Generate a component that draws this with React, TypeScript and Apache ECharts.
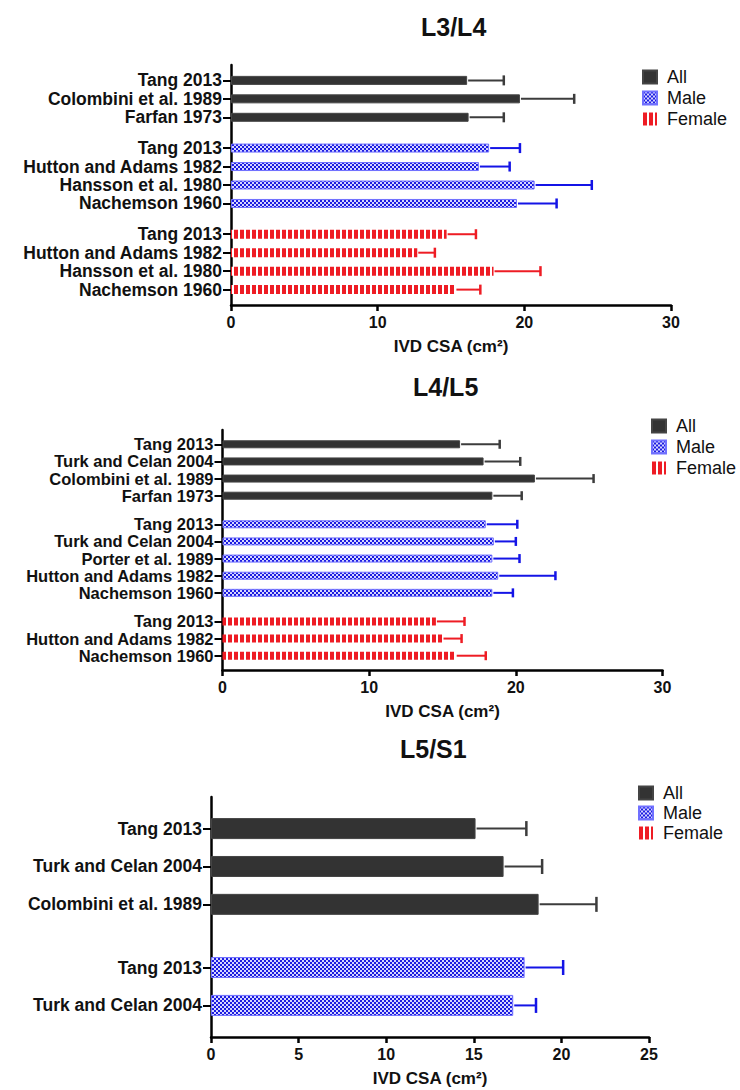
import React, { useEffect, useRef } from 'react';
import * as echarts from 'echarts';

// ---- L3/L4 ----
const l34AllStudies = ['Tang 2013', 'Colombini et al. 1989', 'Farfan 1973'];
const l34AllMean = [16.1, 19.7, 16.2];
const l34AllSD = [2.5, 3.7, 2.4];
const l34MaleStudies = ['Tang 2013', 'Hutton and Adams 1982', 'Hansson et al. 1980', 'Nachemson 1960'];
const l34MaleMean = [17.6, 16.9, 20.7, 19.5];
const l34MaleSD = [2.1, 2.1, 3.9, 2.7];
const l34FemaleStudies = ['Tang 2013', 'Hutton and Adams 1982', 'Hansson et al. 1980', 'Nachemson 1960'];
const l34FemaleMean = [14.7, 12.7, 17.9, 15.3];
const l34FemaleSD = [2.0, 1.2, 3.2, 1.7];

// ---- L4/L5 ----
const l45AllStudies = ['Tang 2013', 'Turk and Celan 2004', 'Colombini et al. 1989', 'Farfan 1973'];
const l45AllMean = [16.2, 17.8, 21.3, 18.4];
const l45AllSD = [2.7, 2.5, 4.0, 2.0];
const l45MaleStudies = ['Tang 2013', 'Turk and Celan 2004', 'Porter et al. 1989', 'Hutton and Adams 1982', 'Nachemson 1960'];
const l45MaleMean = [17.95, 18.5, 18.4, 18.8, 18.4];
const l45MaleSD = [2.15, 1.5, 1.85, 3.9, 1.4];
const l45FemaleStudies = ['Tang 2013', 'Hutton and Adams 1982', 'Nachemson 1960'];
const l45FemaleMean = [14.55, 15.0, 15.9];
const l45FemaleSD = [1.95, 1.3, 2.05];

// ---- L5/S1 ----
const l5s1AllStudies = ['Tang 2013', 'Turk and Celan 2004', 'Colombini et al. 1989'];
const l5s1AllMean = [15.1, 16.7, 18.7];
const l5s1AllSD = [2.9, 2.2, 3.3];
const l5s1MaleStudies = ['Tang 2013', 'Turk and Celan 2004'];
const l5s1MaleMean = [17.9, 17.25];
const l5s1MaleSD = [2.2, 1.3];
const l5s1FemaleStudies: string[] = [];
const l5s1FemaleMean: number[] = [];
const l5s1FemaleSD: number[] = [];

const groupNames = ['All', 'Male', 'Female'];
const panelTitles = ['L3/L4', 'L4/L5', 'L5/S1'];
const axisMax = [30, 30, 25];
const axisInterval = [10, 10, 5];
const axisTitle = 'IVD CSA (cm²)';

type Group = { studies: string[]; mean: number[]; sd: number[] };

const panelsData: Group[][] = [
  [
    { studies: l34AllStudies, mean: l34AllMean, sd: l34AllSD },
    { studies: l34MaleStudies, mean: l34MaleMean, sd: l34MaleSD },
    { studies: l34FemaleStudies, mean: l34FemaleMean, sd: l34FemaleSD },
  ],
  [
    { studies: l45AllStudies, mean: l45AllMean, sd: l45AllSD },
    { studies: l45MaleStudies, mean: l45MaleMean, sd: l45MaleSD },
    { studies: l45FemaleStudies, mean: l45FemaleMean, sd: l45FemaleSD },
  ],
  [
    { studies: l5s1AllStudies, mean: l5s1AllMean, sd: l5s1AllSD },
    { studies: l5s1MaleStudies, mean: l5s1MaleMean, sd: l5s1MaleSD },
    { studies: l5s1FemaleStudies, mean: l5s1FemaleMean, sd: l5s1FemaleSD },
  ],
];

// layout of each panel on the page
const layouts = [
  { grid: { left: 231, top: 65, width: 440, height: 240 }, barWidth: 9, cap: 10, labelSize: 17.5,
    title: { left: 421, top: 14 }, legend: { left: 642, top: 68, itemGap: 3 } },
  { grid: { left: 222.5, top: 430, width: 440, height: 240 }, barWidth: 8, cap: 9, labelSize: 16.5,
    title: { left: 413, top: 374 }, legend: { left: 651, top: 417, itemGap: 3 } },
  { grid: { left: 211, top: 797, width: 438, height: 240 }, barWidth: 21, cap: 15, labelSize: 17.5,
    title: { left: 400, top: 736 }, legend: { left: 638, top: 784, itemGap: 2 } },
];

const FONT = '"Liberation Sans", Arial, Helvetica, sans-serif';
const errColors = ['#3c3c3c', '#1414e6', '#ee1c24'];

function makePattern(w: number, h: number, draw: (ctx: CanvasRenderingContext2D) => void) {
  const c = document.createElement('canvas');
  c.width = w;
  c.height = h;
  const ctx = c.getContext('2d') as CanvasRenderingContext2D;
  draw(ctx);
  return { image: c, repeat: 'repeat' };
}

// slot positions on the category axis: rows 3 slots apart, groups separated by 5
function buildSlots(groups: Group[]) {
  const labels: string[] = [];
  const rows: number[][] = groups.map(() => []);
  let idx = 2;
  let first = true;
  groups.forEach((g, gi) => {
    if (!g.studies.length) return;
    if (!first) idx += 2;
    first = false;
    g.studies.forEach((name) => {
      rows[gi].push(idx);
      labels[idx] = name;
      idx += 3;
    });
  });
  const n = idx;
  for (let i = 0; i < n; i++) if (!labels[i]) labels[i] = '';
  return { labels, rows, n };
}

export default function App() {
  const ref = useRef<HTMLDivElement>(null);

  useEffect(() => {
    if (!ref.current) return;
    const chart = echarts.init(ref.current, undefined, { renderer: 'svg' });

    const malePattern = makePattern(4, 4, (ctx) => {
      ctx.fillStyle = '#d6d6ff';
      ctx.fillRect(0, 0, 4, 4);
      ctx.fillStyle = '#1c1ce0';
      ctx.fillRect(0, 0, 2, 2);
      ctx.fillRect(2, 2, 2, 2);
    });
    const femalePattern = makePattern(6, 6, (ctx) => {
      ctx.fillStyle = '#ffffff';
      ctx.fillRect(0, 0, 6, 6);
      ctx.fillStyle = '#ee1c24';
      ctx.fillRect(0, 0, 4, 6);
    });
    const fills: any[] = ['#333333', malePattern, femalePattern];

    const grids: any[] = [];
    const xAxes: any[] = [];
    const yAxes: any[] = [];
    const series: any[] = [];
    const titles: any[] = [];
    const legends: any[] = [];

    panelsData.forEach((groups, p) => {
      const lay = layouts[p];
      const { labels, rows, n } = buildSlots(groups);
      grids.push({ ...lay.grid, containLabel: false });
      xAxes.push({
        type: 'value',
        gridIndex: p,
        min: 0,
        max: axisMax[p],
        interval: axisInterval[p],
        name: axisTitle,
        nameLocation: 'middle',
        nameGap: 33,
        nameTextStyle: { fontFamily: FONT, fontWeight: 'bold', fontSize: 17, color: '#111' },
        axisLine: { show: true, lineStyle: { color: '#000', width: 2.5 } },
        axisTick: { show: true, length: 6, lineStyle: { color: '#000', width: 2.5 } },
        axisLabel: { fontFamily: FONT, fontWeight: 'bold', fontSize: 16, color: '#111', margin: 9 },
        splitLine: { show: false },
      });
      yAxes.push({
        type: 'category',
        gridIndex: p,
        inverse: true,
        data: Array.from({ length: n }, (_, i) => 's' + i),
        axisLine: { show: true, onZero: false, lineStyle: { color: '#000', width: 2.5 } },
        axisTick: {
          show: true,
          alignWithLabel: true,
          length: 8,
          interval: (i: number) => labels[i] !== '',
          lineStyle: { color: '#000', width: 2 },
        },
        axisLabel: {
          interval: (i: number) => labels[i] !== '',
          formatter: (_v: string, i: number) => labels[i],
          showMinLabel: true,
          showMaxLabel: true,
          hideOverlap: false,
          fontFamily: FONT,
          fontWeight: 'bold',
          fontSize: lay.labelSize,
          lineHeight: 14,
          color: '#111',
          margin: 9,
        },
        splitLine: { show: false },
      });

      groups.forEach((g, gi) => {
        if (!g.studies.length) return;
        series.push({
          type: 'bar',
          name: groupNames[gi],
          xAxisIndex: p,
          yAxisIndex: p,
          barWidth: lay.barWidth,
          barGap: '-100%',
          silent: true,
          itemStyle: {
            color: fills[gi],
            borderColor: gi === 1 ? '#7070ff' : gi === 0 ? '#444' : 'transparent',
            borderWidth: gi === 2 ? 0 : 1,
          },
          data: g.mean.map((m, k) => [m, rows[gi][k]]),
        });
        const stroke = errColors[gi];
        const cap = lay.cap;
        series.push({
          type: 'custom',
          name: groupNames[gi] + ' SD',
          xAxisIndex: p,
          yAxisIndex: p,
          silent: true,
          encode: { x: [0, 1], y: 2 },
          data: g.mean.map((m, k) => [m, m + g.sd[k], rows[gi][k]]),
          renderItem: (_params: any, api: any) => {
            const a = api.coord([api.value(0), api.value(2)]);
            const b = api.coord([api.value(1), api.value(2)]);
            return {
              type: 'group',
              children: [
                { type: 'line', shape: { x1: a[0] + 1, y1: a[1], x2: b[0], y2: b[1] }, style: { stroke, lineWidth: 2 } },
                { type: 'line', shape: { x1: b[0], y1: b[1] - cap / 2, x2: b[0], y2: b[1] + cap / 2 }, style: { stroke, lineWidth: 2.5 } },
              ],
            };
          },
        });
      });

      titles.push({
        text: panelTitles[p],
        left: lay.title.left,
        top: lay.title.top,
        padding: 0,
        textStyle: { fontFamily: FONT, fontWeight: 'bold', fontSize: 25, color: '#111' },
      });
      legends.push({
        data: groupNames,
        left: lay.legend.left,
        top: lay.legend.top,
        orient: 'vertical',
        padding: 0,
        itemGap: lay.legend.itemGap,
        itemWidth: 14,
        itemHeight: 13,
        icon: 'rect',
        selectedMode: false,
        textStyle: { fontFamily: FONT, fontSize: 18, lineHeight: 18, color: '#111', padding: [0, 0, 0, 5] },
      });
    });

    chart.setOption({
      animation: false,
      backgroundColor: '#ffffff',
      title: titles,
      legend: legends,
      grid: grids,
      xAxis: xAxes,
      yAxis: yAxes,
      series,
    });

    return () => chart.dispose();
  }, []);

  return <div ref={ref} style={{ position: 'absolute', left: 0, top: 0, width: 740, height: 1090 }} />;
}
